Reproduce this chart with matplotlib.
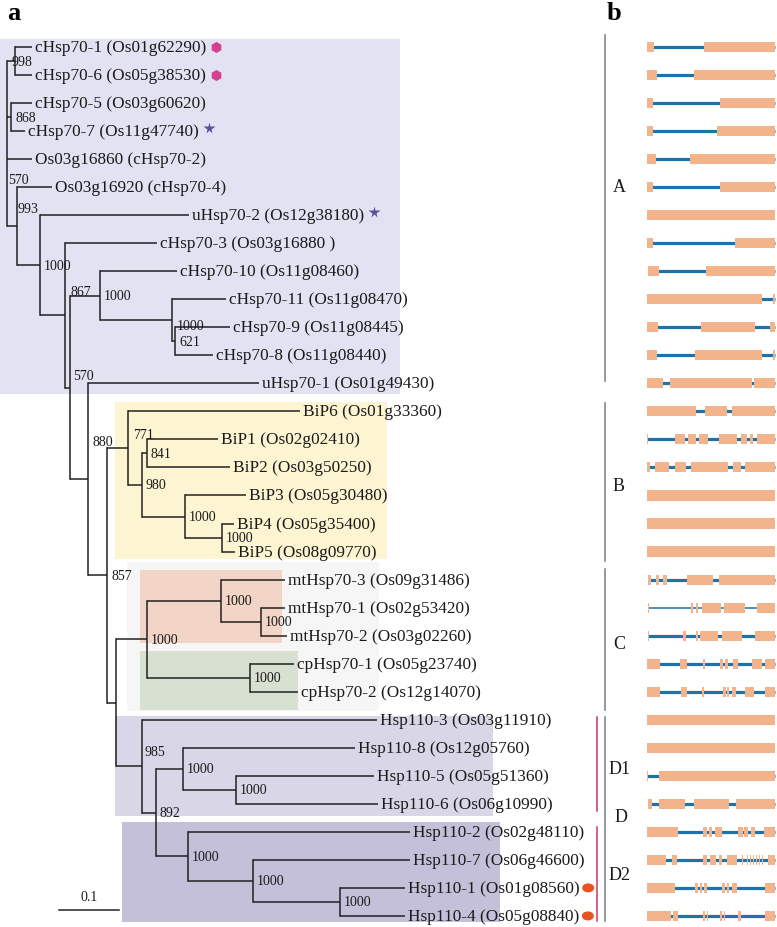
import matplotlib
matplotlib.use("Agg")
import matplotlib.pyplot as plt
from matplotlib.patches import Rectangle, Ellipse

plt.rcParams['font.family'] = ['Liberation Serif', 'DejaVu Serif']

# ---- data -------------------------------------------------------------
# leaves, top to bottom
leaf_names = [
    "cHsp70-1 (Os01g62290)", "cHsp70-6 (Os05g38530)", "cHsp70-5 (Os03g60620)",
    "cHsp70-7 (Os11g47740)", "Os03g16860 (cHsp70-2)", "Os03g16920 (cHsp70-4)",
    "uHsp70-2 (Os12g38180)", "cHsp70-3 (Os03g16880 )", "cHsp70-10 (Os11g08460)",
    "cHsp70-11 (Os11g08470)", "cHsp70-9 (Os11g08445)", "cHsp70-8 (Os11g08440)",
    "uHsp70-1 (Os01g49430)", "BiP6 (Os01g33360)", "BiP1 (Os02g02410)",
    "BiP2 (Os03g50250)", "BiP3 (Os05g30480)", "BiP4 (Os05g35400)",
    "BiP5 (Os08g09770)", "mtHsp70-3 (Os09g31486)", "mtHsp70-1 (Os02g53420)",
    "mtHsp70-2 (Os03g02260)", "cpHsp70-1 (Os05g23740)", "cpHsp70-2 (Os12g14070)",
    "Hsp110-3 (Os03g11910)", "Hsp110-8 (Os12g05760)", "Hsp110-5 (Os05g51360)",
    "Hsp110-6 (Os06g10990)", "Hsp110-2 (Os02g48110)", "Hsp110-7 (Os06g46600)",
    "Hsp110-1 (Os01g08560)", "Hsp110-4 (Os05g08840)",
]
# distance root -> tip
leaf_dist = [0.042, 0.042, 0.042, 0.030, 0.042, 0.075, 0.303, 0.250, 0.283,
             0.365, 0.372, 0.343, 0.420, 0.488, 0.352, 0.372, 0.398, 0.378,
             0.380, 0.463, 0.463, 0.467, 0.478, 0.485, 0.617, 0.580, 0.612,
             0.618, 0.672, 0.672, 0.663, 0.663]
leaf_mark = {0: "hex", 1: "hex", 3: "star", 6: "star", 30: "oval", 31: "oval"}

# internal nodes, children before parents
node_names = ["c16", "c57", "c89", "c1189", "c10",
              "b45", "b345", "b12", "b1to5", "bip",
              "mt12", "mt", "cp", "mtcp",
              "h56", "h856", "h14", "h714", "d2", "h8to4", "hsp110",
              "organ", "n107", "n88", "n70", "n65", "n40", "n17", "root"]
node_kids = [[0, 1], [2, 3], [10, 11], [9, "c89"], [8, "c1189"],
             [17, 18], [16, "b45"], [14, 15], ["b12", "b345"], [13, "b1to5"],
             [20, 21], [19, "mt12"], [22, 23], ["mt", "cp"],
             [26, 27], [25, "h56"], [30, 31], [29, "h14"], [28, "h714"],
             ["h856", "d2"], [24, "h8to4"],
             ["mtcp", "hsp110"], ["bip", "organ"], [12, "n107"], ["c10", "n88"],
             [7, "n70"], [6, "n65"], [5, "n40"], ["c16", "c57", 4, "n17"]]
node_dist = [0.013, 0.007, 0.280, 0.275, 0.155,
             0.358, 0.297, 0.233, 0.225, 0.202,
             0.423, 0.357, 0.405, 0.233,
             0.382, 0.293, 0.555, 0.410, 0.302, 0.248, 0.225,
             0.182, 0.167, 0.135, 0.105, 0.097, 0.055, 0.017, 0.0]
node_boot = [998, 868, 621, 1000, 1000,
             1000, 1000, 841, 980, 771,
             1000, 1000, 1000, 1000,
             1000, 1000, 1000, 1000, 1000, 892, 985,
             None, 857, 880, 570, 867, 1000, 993, 570]
scale_len = 0.1

# gene structures (exon start, end), same row order as the leaves
gene_exons = [
    [(0, 7), (57, 128)], [(0, 10), (47, 128)], [(0, 6), (73, 128)],
    [(0, 6), (70, 128)], [(0, 9), (43, 128)], [(0, 6), (73, 128)],
    [(0, 128)], [(0, 6), (88, 128)], [(1, 12), (59, 128)],
    [(0, 115), (126, 128)], [(0, 11), (54, 108), (123, 128)],
    [(0, 10), (48, 115), (126, 128)], [(0, 16), (23, 105), (107, 128)],
    [(0, 49), (58, 80), (85, 128)],
    [(0, 1), (28, 38), (41, 49), (52, 61), (72, 90), (94, 100), (103, 106), (110, 128)],
    [(0, 3), (8, 22), (28, 39), (44, 81), (86, 94), (98, 128)],
    [(0, 128)], [(0, 128)], [(0, 128)],
    [(1, 4), (9, 12), (16, 20), (40, 66), (72, 128)],
    [(1, 2), (44, 46), (49, 51), (55, 74), (77, 98), (110, 128)],
    [(1, 2), (36, 39), (49, 51), (53, 71), (75, 95), (108, 128)],
    [(0, 13), (33, 40), (56, 58), (73, 76), (78, 81), (86, 91), (105, 115), (118, 128)],
    [(0, 13), (34, 40), (55, 57), (76, 79), (80, 82), (85, 89), (98, 107), (118, 128)],
    [(0, 128)], [(0, 128)], [(0, 1), (12, 128)],
    [(1, 5), (12, 38), (47, 82), (89, 128)],
    [(0, 31), (56, 60), (62, 65), (68, 75), (91, 96), (97, 101), (104, 108), (117, 128)],
    [(0, 19), (25, 30), (56, 60), (63, 69), (72, 75), (80, 90), (95, 96), (100, 101),
     (103, 104), (106, 107), (109, 110), (112, 113), (115, 116), (121, 128)],
    [(0, 28), (48, 51), (53, 55), (57, 60), (75, 78), (80, 82), (85, 90), (118, 128)],
    [(0, 24), (26, 31), (56, 58), (60, 61), (73, 75), (77, 78), (91, 94), (118, 128)],
]
thin_intron_rows = {20}

groups = ["A", "B", "C", "D1", "D", "D2"]

# ---- layout -------------------------------------------------------------
W, H = 777, 928
row0, row_h = 48, 28.03
ylims = ((H - row0) / row_h, -row0 / row_h)
line_col = "#222222"

fig = plt.figure(figsize=(W / 100, H / 100), dpi=100)

canvas = fig.add_axes([0, 0, 1, 1])
canvas.set_xlim(0, W)
canvas.set_ylim(H, 0)
canvas.axis("off")

# shaded clade boxes (x0, y0, x1, y1)
boxes = [
    (0, 40, 400, 395, "#e2e2f3"),
    (115, 403, 387, 560, "#fdf5d2"),
    (127, 563, 379, 712, "#f6f6f6"),
    (140, 571, 282, 644, "#f2d5c7"),
    (140, 652, 298, 711, "#d8e1d1"),
    (115, 717, 493, 817, "#d9d7e7"),
    (122, 823, 500, 923, "#c4c0da"),
]
for x0, y0, x1, y1, c in boxes:
    canvas.add_patch(Rectangle((x0, y0), x1 - x0, y1 - y0, color=c, lw=0))

# group brackets of panel b
brackets = [(605, 36, 382, "#7a7a7a"), (605, 404, 562, "#7a7a7a"),
            (605, 570, 711, "#7a7a7a"), (605, 718, 922, "#7a7a7a"),
            (597, 718, 812, "#d0345c"), (597, 828, 922, "#d0345c")]
for x, y0, y1, c in brackets:
    canvas.plot([x, x], [y0, y1], color=c, lw=1.1)
group_pos = [(619, 188), (619, 487), (619, 645), (620, 770), (621, 818), (620, 876)]
for g, (x, y) in zip(groups, group_pos):
    canvas.text(x, y, g, fontsize=13, ha="center", va="center", color="#1a1a1a")

canvas.text(14, 14, "a", fontsize=19, fontweight="bold", ha="center", va="center")
canvas.text(614, 14, "b", fontsize=19, fontweight="bold", ha="center", va="center")

# ---- tree -------------------------------------------------------------
tree = fig.add_axes([0, 0, 1, 1])
tree.patch.set_alpha(0)
tree.set_xlim(-7 / 600, (W - 7) / 600)
tree.set_ylim(*ylims)
tree.axis("off")

pos_x = {i: d for i, d in enumerate(leaf_dist)}
pos_y = {i: float(i) for i in range(len(leaf_names))}
for name, kids, d in zip(node_names, node_kids, node_dist):
    ys = [pos_y[k] for k in kids]
    pos_x[name] = d
    pos_y[name] = (ys[0] + ys[-1]) / 2
    tree.plot([d, d], [ys[0], ys[-1]], color=line_col, lw=1.1, solid_capstyle="projecting")
    for k in kids:
        tree.plot([d, pos_x[k]], [pos_y[k], pos_y[k]], color=line_col, lw=1.1,
                  solid_capstyle="butt")

# bootstrap labels: default just right of the node; a few sit higher
label_shift = {"root": (1, 36), "n17": (0, -18), "n65": (5, -24), "n70": (3, -12),
               "n88": (5, -38), "bip": (5, -14), "hsp110": (3, -15),
               "c16": (-3, 0), "c1189": (5, 5)}
for name, b in zip(node_names, node_boot):
    if b is None:
        continue
    dx, dy = label_shift.get(name, (4, 0))
    tree.annotate(str(b), (pos_x[name], pos_y[name]), xytext=(dx * 0.72, -dy * 0.72),
                  textcoords="offset points", fontsize=10, ha="left", va="center",
                  color="#1a1a1a")

leaf_texts = []
for i, name in enumerate(leaf_names):
    t = tree.annotate(name, (leaf_dist[i], i), xytext=(2.0, 0), textcoords="offset points",
                      fontsize=12.4, ha="left", va="center", color="#1a1a1a")
    leaf_texts.append(t)

# scale bar
sx, sy = 0.087, 30.79
tree.plot([sx, sx + scale_len], [sy, sy], color=line_col, lw=1.1)
tree.text(sx + scale_len / 2, sy - 0.5, str(scale_len), fontsize=10, ha="center",
          va="center", color="#1a1a1a")

# markers after some labels
fig.canvas.draw()
rend = fig.canvas.get_renderer()
inv = tree.transData.inverted()
for i, kind in leaf_mark.items():
    bb = leaf_texts[i].get_window_extent(rend)
    gap = 9 if kind == "oval" else 10
    mx, my = inv.transform((bb.x1 + gap, (bb.y0 + bb.y1) / 2))
    if kind == "hex":
        tree.plot(mx, my, marker="h", ms=8, color="#d6418f", mec="none")
    elif kind == "star":
        tree.plot(mx, my - 0.12, marker="*", ms=8.5, color="#5b4ea0", mec="none")
    else:
        tree.add_patch(Ellipse((mx, my), 12 / 600, 9 / row_h, color="#e8531f", lw=0))

# ---- gene structures -------------------------------------------------
genes = fig.add_axes([647 / W, 0, 130 / W, 1])
genes.patch.set_alpha(0)
genes.set_xlim(0, 130)
genes.set_ylim(*ylims)
genes.axis("off")
for r, exons in enumerate(gene_exons):
    if len(exons) > 1:
        lw = 1.1 if r in thin_intron_rows else 2.3
        genes.plot([exons[0][0], exons[-1][1]], [r, r], color="#1f72aa", lw=lw,
                   solid_capstyle="butt", zorder=1)
    for a, b in exons:
        genes.add_patch(Rectangle((a, r - 0.18), b - a, 0.36, color="#f3b48c", lw=0, zorder=2))

fig.savefig("out.png", dpi=100)
